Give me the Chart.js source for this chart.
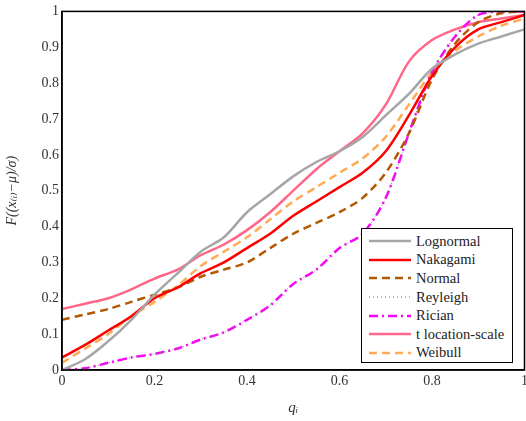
<!DOCTYPE html>
<html><head><meta charset="utf-8">
<script src="https://cdn.jsdelivr.net/npm/chart.js@4"></script>
<style>
body{margin:0;background:#fff;}
#wrap{position:relative;width:526px;height:421px;overflow:hidden;}
#legend{position:absolute;left:361px;top:228px;width:152px;height:135px;border:1.3px solid #000;background:#fff;font-family:"Liberation Serif","DejaVu Serif","Times New Roman",serif;font-size:14.5px;color:#222;padding:3px 0 0 7px;box-sizing:border-box;}
#legend div{height:18.6px;display:flex;align-items:center;}
#legend svg{margin-right:5px;}
</style></head>
<body><div id="wrap"><canvas id="c" width="531" height="421"></canvas><div id="legend"></div></div>
<script>
const qi = [0,0.05,0.1,0.15,0.2,0.25,0.3,0.35,0.4,0.45,0.5,0.55,0.6,0.65,0.7,0.75,0.8,0.85,0.9,0.95,1];
const lognormal = [0,0.03,0.08,0.14,0.21,0.27,0.33,0.37,0.44,0.49,0.54,0.58,0.61,0.65,0.71,0.77,0.84,0.88,0.91,0.93,0.95];
const nakagami = [0.035,0.07,0.11,0.15,0.2,0.23,0.27,0.3,0.34,0.38,0.43,0.47,0.51,0.55,0.61,0.71,0.82,0.9,0.95,0.97,0.99];
const normal = [0.14,0.155,0.17,0.19,0.21,0.23,0.26,0.28,0.3,0.34,0.38,0.41,0.44,0.48,0.55,0.66,0.81,0.91,0.97,0.995,1];
const rayleigh = [0,0.005,0.02,0.035,0.045,0.06,0.085,0.105,0.14,0.18,0.24,0.28,0.34,0.38,0.48,0.66,0.83,0.93,0.99,1,1];
const rician = [0,0.005,0.02,0.035,0.045,0.06,0.085,0.105,0.14,0.18,0.24,0.28,0.34,0.38,0.48,0.66,0.83,0.93,0.99,1,1];
const tLocScale = [0.17,0.185,0.2,0.225,0.255,0.28,0.32,0.35,0.39,0.44,0.5,0.56,0.61,0.66,0.74,0.86,0.92,0.95,0.97,0.98,0.99];
const weibull = [0.02,0.06,0.1,0.15,0.19,0.235,0.29,0.33,0.37,0.42,0.47,0.51,0.55,0.59,0.65,0.74,0.83,0.89,0.93,0.96,0.98];
const yTicks = [0,0.1,0.2,0.3,0.4,0.5,0.6,0.7,0.8,0.9,1];

const series = [
  {label:'Lognormal', data:lognormal, color:'#a6a6a6', dash:[], w:2.5},
  {label:'Nakagami', data:nakagami, color:'#ff0000', dash:[], w:2.5},
  {label:'Normal', data:normal, color:'#b35900', dash:[8,5], w:2.5},
  {label:'Reyleigh', data:rayleigh, color:'#777777', dash:[1,3], w:1},
  {label:'Rician', data:rician, color:'#ff00ff', dash:[9,4,2,4], w:2.5},
  {label:'t location-scale', data:tLocScale, color:'#ff6688', dash:[], w:2.5},
  {label:'Weibull', data:weibull, color:'#ffaa55', dash:[8,5], w:2.5},
];

const fam = '"Liberation Serif", "DejaVu Serif", "Times New Roman", serif';
const font = {family:fam, size:14};
new Chart(document.getElementById('c'), {
  type:'line',
  data:{datasets: series.map(s => ({
    label:s.label, data:qi.map((x,i)=>({x:x,y:s.data[i]})),
    borderColor:s.color, borderDash:s.dash, borderWidth:s.w,
    pointRadius:0, tension:0.3, fill:false,
  }))},
  options:{
    responsive:false, animation:false,
    layout:{padding:{top:6,right:0}},
    plugins:{legend:{display:false}, tooltip:{enabled:false}},
    scales:{
      x:{type:'linear', min:0, max:1,
        ticks:{stepSize:0.2, color:'#333', font:font, callback:v=>String(+v.toFixed(1))},
        grid:{drawOnChartArea:false, drawTicks:false},
        border:{color:'#000', width:1.5},
        title:{display:true, text:'qᵢ', color:'#333', font:{family:fam,size:15,style:'italic'}},
        afterFit:s=>{s.height=51;}},
      y:{min:0, max:1,
        afterBuildTicks:s=>{s.ticks=yTicks.map(v=>({value:v}));},
        ticks:{color:'#333', font:font, callback:v=>String(+v.toFixed(1))},
        grid:{drawOnChartArea:false, drawTicks:false},
        border:{color:'#000', width:1.5},
        title:{display:true, text:'F((x₍ᵢ₎−μ)/σ)', color:'#333', font:{family:fam,size:14,style:'italic'}},
        afterFit:s=>{s.width=62;}},
    }
  },
  plugins:[{id:'frame', afterDraw(c){const a=c.chartArea,x=c.ctx;x.save();x.strokeStyle='#000';x.lineWidth=1.5;x.strokeRect(a.left,a.top,a.right-a.left,a.bottom-a.top);x.restore();}}]
});

const leg = document.getElementById('legend');
series.forEach(s=>{
  const d=document.createElement('div');
  d.innerHTML=`<svg width="42" height="8"><line x1="0" y1="4" x2="42" y2="4" stroke="${s.color}" stroke-width="${s.w}" stroke-dasharray="${s.dash.join(',')}"/></svg>${s.label}`;
  leg.appendChild(d);
});
</script></body></html>
